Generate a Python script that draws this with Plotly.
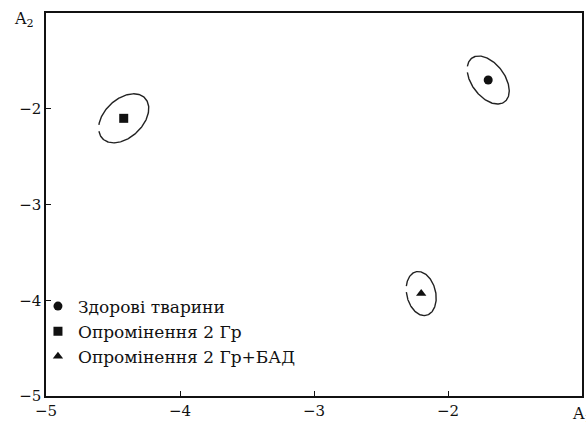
import numpy as np
import plotly.graph_objects as go

# Group data (centers of groups in A1/A2 space)
groups = ["Здорові тварини", "Опромінення 2 Гр", "Опромінення 2 Гр+БАД"]
a1 = [-1.70, -4.42, -2.20]
a2 = [-1.70, -2.10, -3.93]
symbols = ["circle", "square", "triangle-up"]

# Confidence ellipse parameters (half-extent along A1, along A2, correlation)
ell_rx = [0.157, 0.187, 0.112]
ell_ry = [0.251, 0.256, 0.230]
ell_corr = [-0.45, 0.40, -0.20]

x_ticks = [-5, -4, -3, -2]
y_ticks = [-5, -4, -3, -2]

FONT = "DejaVu Serif, Liberation Serif, serif"

fig = go.Figure()

for i in range(3):
    phi = np.arcsin(ell_corr[i])
    gap = np.radians(8)
    t = np.linspace(np.pi + gap, 3 * np.pi - gap, 200)
    ex = a1[i] + ell_rx[i] * np.cos(t)
    ey = a2[i] + ell_ry[i] * np.sin(t + phi)
    fig.add_trace(go.Scatter(x=ex, y=ey, mode="lines",
                             line=dict(color="#222", width=1.4),
                             showlegend=False, hoverinfo="skip"))

for i in range(3):
    fig.add_trace(go.Scatter(x=[a1[i]], y=[a2[i]], mode="markers",
                             name=groups[i],
                             marker=dict(symbol=symbols[i], color="#111",
                                         size=9)))

axis_common = dict(showline=True, linecolor="#111", linewidth=1.5, mirror=True,
                   ticks="inside", ticklen=5, tickcolor="#111", tickwidth=1,
                   showgrid=False, zeroline=False,
                   tickfont=dict(family=FONT, size=15, color="#111"))

fig.update_xaxes(range=[-5, -1], tickvals=x_ticks,
                 ticktext=["−" + str(abs(v)) for v in x_ticks], **axis_common)
fig.update_yaxes(range=[-5, -1], tickvals=y_ticks,
                 ticktext=["−" + str(abs(v)) for v in y_ticks], **axis_common)

fig.add_annotation(x=-1, y=0, xref="x", yref="paper", yanchor="top", yshift=-6,
                   xanchor="center", text="A<sub>1</sub>", showarrow=False,
                   font=dict(family=FONT, size=16, color="#111"))
fig.add_annotation(x=0, y=-1.07, xref="paper", yref="y", xanchor="right",
                   xshift=-10, yanchor="middle", text="A<sub>2</sub>",
                   showarrow=False, font=dict(family=FONT, size=16, color="#111"))

fig.update_layout(
    width=586, height=425,
    margin=dict(l=46, r=4, t=13, b=29, autoexpand=False),
    plot_bgcolor="white", paper_bgcolor="white",
    font=dict(family=FONT, color="#111"),
    legend=dict(x=-0.015, y=0.056, xanchor="left", yanchor="bottom",
                bgcolor="rgba(0,0,0,0)", font=dict(family=FONT, size=17),
                itemwidth=30, tracegroupgap=0),
)

fig.write_html("out.html", config={"displayModeBar": False},
               post_script="document.body.style.margin='0';document.body.style.overflow='hidden';")
